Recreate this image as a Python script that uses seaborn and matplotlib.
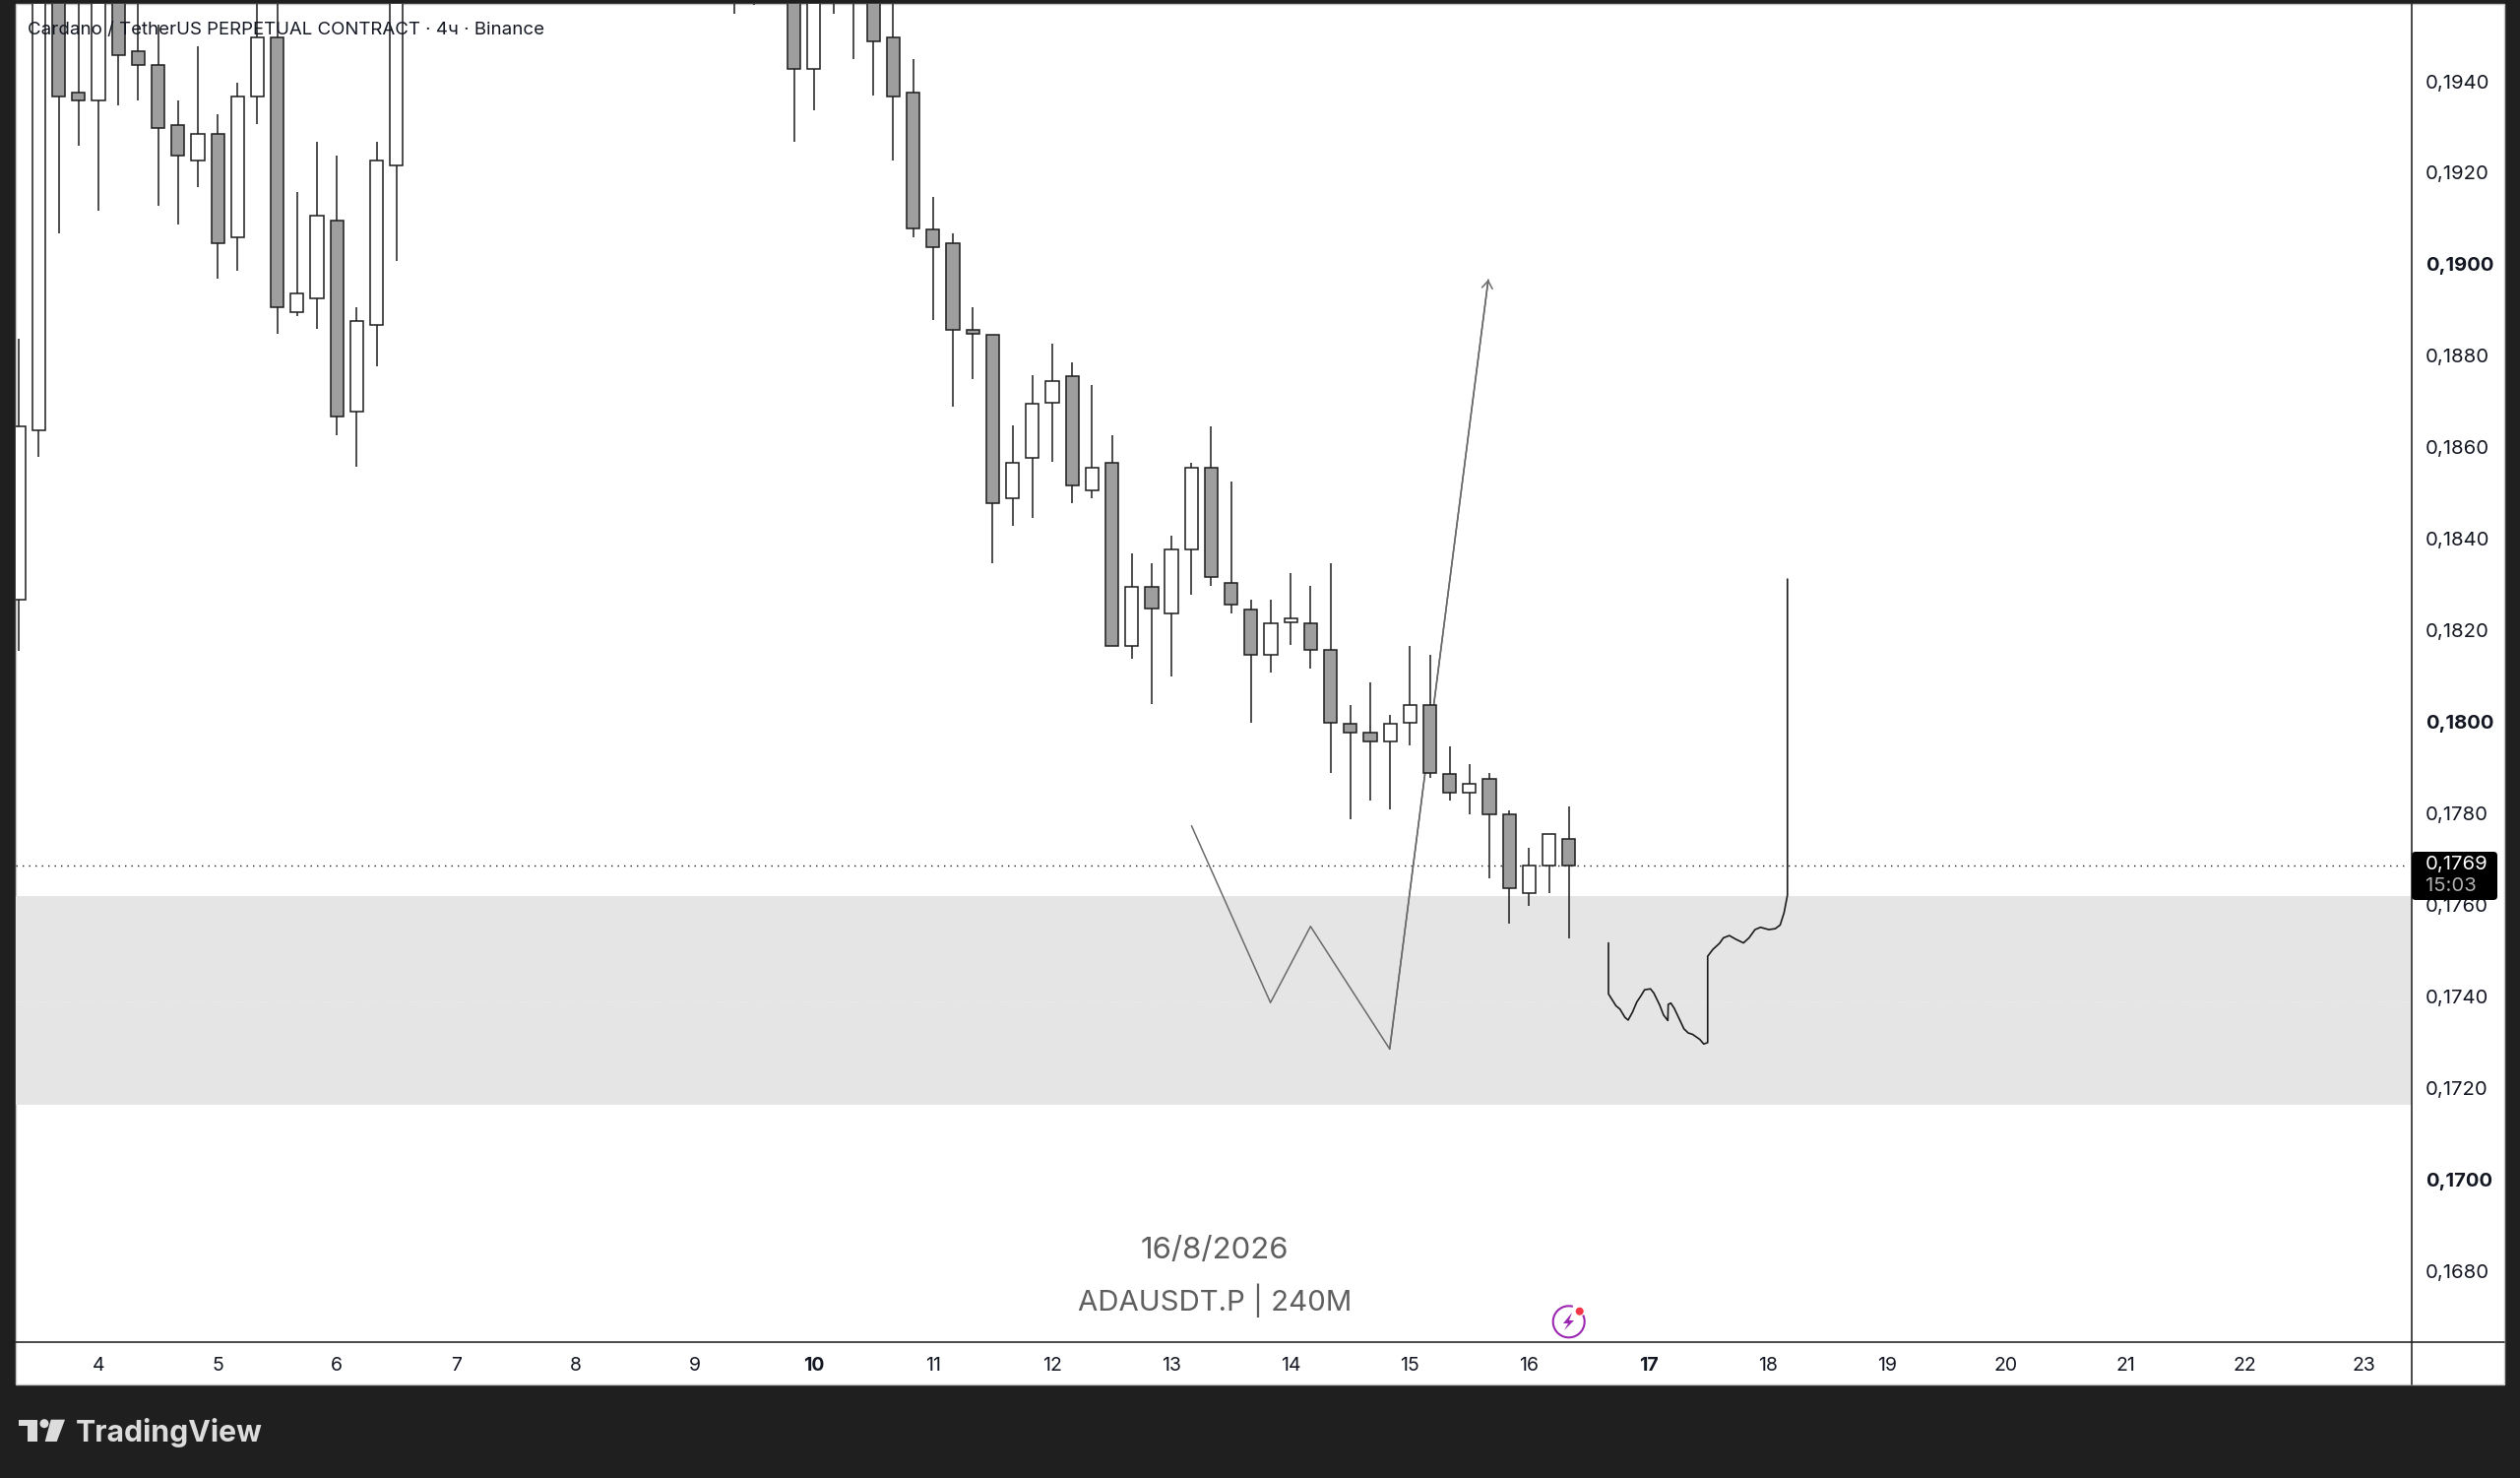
import numpy as np
import pandas as pd
import matplotlib
matplotlib.use('Agg')
import matplotlib.pyplot as plt
from matplotlib.patches import Rectangle, Polygon, Circle, Arc, FancyBboxPatch
import seaborn as sns

# candles, one bar = 4h, bar 0 = day 4 (bars 16-31 and 34 are above the visible range)
bar_no = list(range(-4, 16)) + [32, 33] + list(range(35, 75))
opens = [0.18265, 0.18634, 0.1975, 0.19369, 0.19352, 0.1968, 0.19460, 0.19429, 0.19299, 0.19221,
         0.19279, 0.19053, 0.19361, 0.19489, 0.18892, 0.18922, 0.19090, 0.18674, 0.18863, 0.19211,
         0.1975, 0.1975,
         0.1975, 0.19420, 0.1975, 0.1975, 0.1968, 0.19489, 0.19369, 0.19072, 0.19042, 0.18852,
         0.18842, 0.18485, 0.18574, 0.18693, 0.18752, 0.18504, 0.18563, 0.18165, 0.18294, 0.18235,
         0.18375, 0.18553, 0.18302, 0.18244, 0.18145, 0.18215, 0.18213, 0.18155, 0.17995, 0.17975,
         0.17956, 0.17997, 0.18035, 0.17885, 0.17846, 0.17875, 0.17797, 0.17627, 0.17687, 0.17745]
highs = [0.18833, 0.1980, 0.1980, 0.1975, 0.1980, 0.1975, 0.1970, 0.19517, 0.19352, 0.19469,
         0.19321, 0.19390, 0.1975, 0.1975, 0.19152, 0.19262, 0.19231, 0.18901, 0.19262, 0.1980,
         0.1980, 0.1980,
         0.1980, 0.1980, 0.1980, 0.1980, 0.1970, 0.1970, 0.19441, 0.19142, 0.19062, 0.18901,
         0.18842, 0.18644, 0.18753, 0.18823, 0.18782, 0.18733, 0.18623, 0.18365, 0.18344, 0.18404,
         0.18563, 0.18643, 0.18523, 0.18265, 0.18265, 0.18324, 0.18295, 0.18344, 0.18035, 0.18086,
         0.18015, 0.18165, 0.18145, 0.17945, 0.17907, 0.17887, 0.17807, 0.17726, 0.17756, 0.17816]
lows = [0.18154, 0.18576, 0.19063, 0.19254, 0.19112, 0.19342, 0.19352, 0.19123, 0.19081, 0.19163,
        0.18964, 0.18982, 0.19301, 0.18844, 0.18882, 0.18854, 0.18624, 0.18555, 0.18774, 0.19003,
        0.19541, 0.19560,
        0.19262, 0.19331, 0.19541, 0.19442, 0.19362, 0.19222, 0.19053, 0.18874, 0.18685, 0.18745,
        0.18345, 0.18425, 0.18444, 0.18565, 0.18476, 0.18486, 0.18165, 0.18136, 0.18037, 0.18097,
        0.18276, 0.18296, 0.18236, 0.17997, 0.18106, 0.18166, 0.18116, 0.17888, 0.17788, 0.17827,
        0.17808, 0.17947, 0.17877, 0.17827, 0.17797, 0.17658, 0.17559, 0.17599, 0.17627, 0.17528]
closes = [0.18643, 0.1975, 0.19361, 0.19352, 0.1975, 0.19451, 0.19430, 0.19291, 0.19231, 0.19279,
          0.19042, 0.19360, 0.19489, 0.18901, 0.18931, 0.19101, 0.18663, 0.18872, 0.19221, 0.1975,
          0.1970, 0.1970,
          0.19420, 0.1975, 0.1968, 0.1965, 0.19480, 0.19361, 0.19073, 0.19032, 0.18853, 0.18843,
          0.18475, 0.18563, 0.18691, 0.18742, 0.18513, 0.18553, 0.18165, 0.18294, 0.18245, 0.18374,
          0.18553, 0.18315, 0.18255, 0.18145, 0.18213, 0.18224, 0.18155, 0.17997, 0.17976, 0.17956,
          0.17995, 0.18035, 0.17887, 0.17846, 0.17865, 0.17797, 0.17637, 0.17687, 0.17756, 0.17687]

# drawn on top of the chart
zigzag_day = [13.168, 13.83, 14.166, 14.830, 15.657]
zigzag_price = [0.17773, 0.17388, 0.17554, 0.17287, 0.18962]
brush_day = [16.665, 16.665, 16.728, 16.761, 16.803, 16.830, 16.866, 16.902, 16.940, 16.968,
             17.017, 17.045, 17.094, 17.127, 17.163, 17.166, 17.188, 17.216, 17.260, 17.298,
             17.334, 17.370, 17.431, 17.464, 17.497, 17.497, 17.541, 17.596, 17.629, 17.679,
             17.733, 17.797, 17.844, 17.894, 17.940, 18.009, 18.064, 18.105, 18.138, 18.166, 18.166]
brush_price = [0.17518, 0.17407, 0.17381, 0.17374, 0.17356, 0.17350, 0.17367, 0.17389, 0.17404, 0.17416,
               0.17418, 0.17409, 0.17383, 0.17361, 0.17349, 0.17384, 0.17387, 0.17376, 0.17352, 0.17331,
               0.17322, 0.17319, 0.17308, 0.17298, 0.17301, 0.17489, 0.17504, 0.17517, 0.17529, 0.17534,
               0.17526, 0.17518, 0.17529, 0.17547, 0.17552, 0.17547, 0.17549, 0.17557, 0.17584, 0.17622, 0.18310]

zone_top = 0.17620
zone_bottom = 0.17166
last_price = 0.17687
faint_price = 0.1739

price_ticks = [0.168, 0.170, 0.172, 0.174, 0.176, 0.178, 0.180, 0.182, 0.184, 0.186, 0.188, 0.190, 0.192, 0.194]
price_bold = [0.170, 0.180, 0.190]
day_ticks = list(range(4, 24))
day_bold = [10, 17]

DARK = '#1f1f1f'
TEXT = '#131722'
W, H = 2560, 1501

sns.set_theme(style='white')
plt.rcParams['font.family'] = ['Inter', 'DejaVu Sans']

df = pd.DataFrame({'bar': bar_no, 'open': opens, 'high': highs, 'low': lows, 'close': closes})
df['day'] = 4 + df['bar'] / 6
df['up'] = df['close'] >= df['open']

fig = plt.figure(figsize=(W / 100, H / 100), dpi=100, facecolor=DARK)

# frame of the screenshot, in pixels
bg = fig.add_axes([0, 0, 1, 1], zorder=-1)
bg.set_xlim(0, W)
bg.set_ylim(H, 0)
bg.axis('off')
bg.add_patch(Rectangle((16, 4), 2528, 1402, facecolor='white', edgecolor='#c4c4c4', lw=1))

ax = fig.add_axes([16 / W, 1 - 1363 / H, (2450 - 16) / W, (1363 - 4) / H], zorder=1)
ax.set_xlim(3.3065, 23.402)
ax.set_ylim(0.16649, 0.19562)
ax.patch.set_alpha(0)

ax.axhspan(zone_bottom, zone_top, color='#e5e5e5', lw=0, zorder=1)
ax.axhline(faint_price, color='#e9e9e9', lw=1, ls=(0, (8, 8)), zorder=1.5)
ax.plot([3.3065, 23.36], [last_price, last_price], color='#1a1a1a', lw=1, ls=(0, (1, 3.68)), zorder=2)

sns.lineplot(x=zigzag_day, y=zigzag_price, sort=False, estimator=None, color='#6a6a6a', lw=1.1,
             ax=ax, legend=False, zorder=3)
ax.annotate('', xy=(zigzag_day[-1], zigzag_price[-1]),
            xytext=(zigzag_day[-2], zigzag_price[-2]),
            arrowprops=dict(arrowstyle='->,head_length=0.45,head_width=0.32', color='#6a6a6a',
                            lw=1.1, shrinkA=0, shrinkB=0), zorder=3)

ax.vlines(df['day'], df['low'], df['high'], color='#1c1c1c', lw=1.1, zorder=4)
ax.bar(df['day'], (df['close'] - df['open']).abs(), bottom=df[['open', 'close']].min(axis=1),
       width=0.109, color=df['up'].map({True: 'white', False: '#9e9e9e'}),
       edgecolor='#1c1c1c', linewidth=1.1, zorder=5)

sns.lineplot(x=brush_day, y=brush_price, sort=False, estimator=None, color='#1c1c1c', lw=1.2,
             ax=ax, legend=False, zorder=6)

# axes
for side in ['top', 'left']:
    ax.spines[side].set_visible(False)
for side in ['right', 'bottom']:
    ax.spines[side].set_color('#2a2a2a')
    ax.spines[side].set_linewidth(1.2)
ax.set_yticks([])
ax.set_xticks(day_ticks)
ax.set_xticklabels([str(d) for d in day_ticks])
ax.tick_params(axis='x', length=0, pad=11, labelsize=14, labelcolor=TEXT)
for lab, d in zip(ax.get_xticklabels(), day_ticks):
    if d in day_bold:
        lab.set_fontweight('bold')

# price labels follow the scale printed on the chart
ax2 = ax.twinx()
ax2.set_ylim(0.16644, 0.19569)
for side in ax2.spines:
    ax2.spines[side].set_visible(False)
ax2.set_yticks(price_ticks)
ax2.set_yticklabels([f'{p:.4f}'.replace('.', ',') for p in price_ticks])
ax2.tick_params(axis='y', length=0, pad=10, labelsize=14.6, labelcolor=TEXT)
for lab, p in zip(ax2.get_yticklabels(), price_ticks):
    if p in price_bold:
        lab.set_fontweight('bold')

# overlay: texts and badges, in pixels
ov = fig.add_axes([0, 0, 1, 1], zorder=3)
ov.set_xlim(0, W)
ov.set_ylim(H, 0)
ov.axis('off')
ov.patch.set_alpha(0)

ov.plot([2450, 2450], [1363, 1406], color='#2a2a2a', lw=1.2)
ov.plot([2450, 2544], [1363, 1363], color='#2a2a2a', lw=1.2)
ov.text(28, 30.5, 'Cardano / TetherUS PERPETUAL CONTRACT · 4ч · Binance', color=TEXT, fontsize=13.45,
        va='center', ha='left')
ov.text(1234, 1270, '16/8/2026', color='#5f5f5f', fontsize=22.4, va='center', ha='center')
ov.text(1234, 1320.5, 'ADAUSDT.P | 240M', color='#5f5f5f', fontsize=21.2, va='center', ha='center')

# last price badge
ov.add_patch(FancyBboxPatch((2450, 865), 87, 49, boxstyle='round,pad=0,rounding_size=4',
                            facecolor='black', edgecolor='none'))
ov.text(2464, 878, '0,1769', color='white', fontsize=14.6, va='center', ha='left')
ov.text(2464, 900, '15:03', color='#b0b0b0', fontsize=14.6, va='center', ha='left')

# lightning badge
ov.add_patch(Arc((1593.7, 1342.3), 32, 32, theta1=-25, theta2=285, color='#9c27b0', lw=1.5))
ov.add_patch(Polygon([(1597, 1333), (1588, 1344), (1593, 1344), (1589, 1351), (1599, 1341), (1594, 1341)],
                     closed=True, facecolor='#9c27b0', edgecolor='none'))
ov.add_patch(Circle((1604.7, 1331.7), 4, facecolor='#f23645', edgecolor='none'))

# TradingView logo
LOGO = '#dcdcdc'
ov.add_patch(Polygon([(19, 1441.7), (38, 1441.7), (38, 1464), (28.3, 1464), (28.3, 1448), (19, 1448)],
                     closed=True, facecolor=LOGO, edgecolor='none'))
ov.add_patch(Circle((45, 1445.7), 4.5, facecolor=LOGO, edgecolor='none'))
ov.add_patch(Polygon([(51.7, 1441.7), (66, 1441.7), (57.7, 1464), (45.7, 1464)],
                     closed=True, facecolor=LOGO, edgecolor='none'))
ov.text(77, 1464, 'TradingView', color=LOGO, fontsize=21.8, fontweight='bold', va='baseline', ha='left')

fig.savefig('out.png', dpi=100, facecolor=DARK)
